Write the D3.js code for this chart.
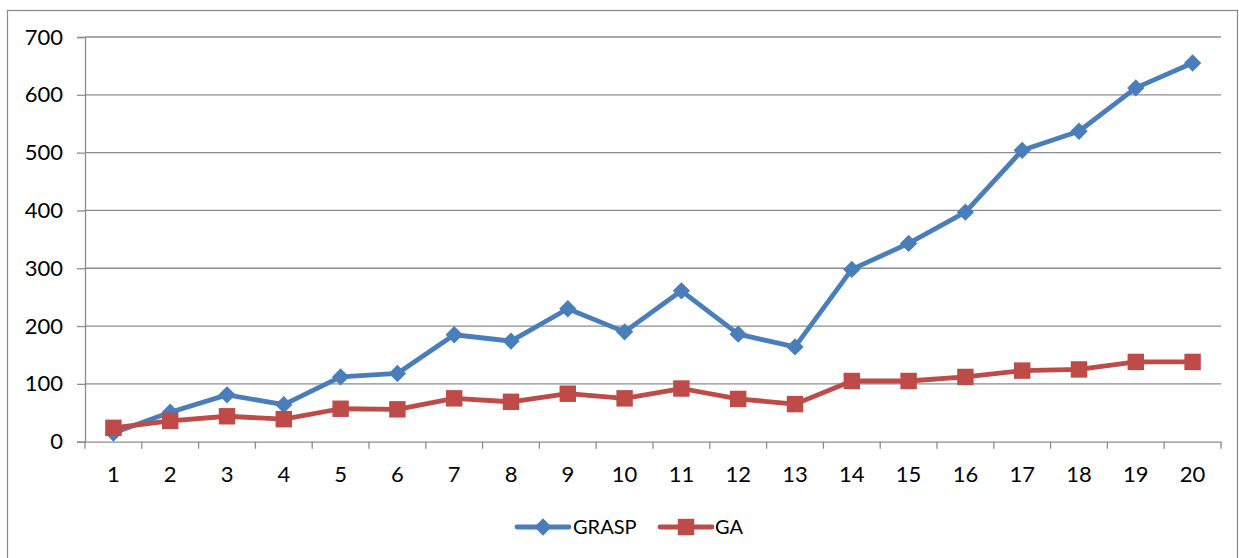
<!DOCTYPE html>
<html>
<head>
<meta charset="utf-8">
<script src="https://cdn.jsdelivr.net/npm/d3@7"></script>
<style>
  body { margin: 0; background: #fff; }
  svg text { font-family: Lato, "Open Sans", sans-serif; fill: #000; }
</style>
</head>
<body>
<div id="chart"></div>
<script>
// Chart data
const categories = d3.range(1, 21).map(String);
const graspValues = [15, 51, 81, 64, 112, 118, 185, 174, 230, 190, 261, 186, 164, 298, 343, 397, 504, 537, 612, 655];
const gaValues = [24, 36, 44, 39, 57, 56, 75, 69, 83, 75, 92, 74, 65, 105, 105, 112, 123, 125, 138, 138];
const yTicks = [0, 100, 200, 300, 400, 500, 600, 700];

const series = [
    {name: "GRASP", values: graspValues, color: "#4a7ebb", shape: "diamond"},
    {name: "GA", values: gaValues, color: "#be4b48", shape: "square"}
];

const W = 1239, H = 558;
const plot = {left: 85, right: 1221, top: 37, bottom: 441.7};

const svg = d3.select("#chart").append("svg")
    .attr("width", W)
    .attr("height", H);

// outer chart border
svg.append("rect")
    .attr("x", 7.5).attr("y", 10.5)
    .attr("width", 1230).attr("height", 560)
    .attr("fill", "none")
    .attr("stroke", "#868686")
    .attr("stroke-width", 1.2);

const x = d3.scaleBand()
    .domain(categories)
    .range([plot.left, plot.right]);

const y = d3.scaleLinear()
    .domain([0, 700])
    .range([plot.bottom, plot.top]);

// horizontal gridlines
svg.append("g")
    .selectAll("line")
    .data(yTicks.filter(d => d > 0))
    .enter().append("line")
    .attr("x1", plot.left).attr("x2", plot.right)
    .attr("y1", d => y(d)).attr("y2", d => y(d))
    .attr("stroke", "#8c8c8c")
    .attr("stroke-width", 1.3);

// y axis
const yAxis = svg.append("g")
    .attr("transform", `translate(${plot.left},0)`)
    .call(d3.axisLeft(y).tickValues(yTicks).tickSize(8).tickPadding(14));
yAxis.select(".domain").attr("stroke", "#8c8c8c").attr("stroke-width", 1.3);
yAxis.selectAll(".tick line").attr("stroke", "#8c8c8c").attr("stroke-width", 1.3);
yAxis.selectAll(".tick text")
    .style("font-size", "22px")
    .style("font-family", "Lato, 'Open Sans', sans-serif");

// x axis: ticks sit on band boundaries
const xAxis = svg.append("g")
    .attr("transform", `translate(0,${plot.bottom})`)
    .call(d3.axisBottom(x).tickSize(0).tickPadding(25));
xAxis.select(".domain").attr("stroke", "#8c8c8c").attr("stroke-width", 1.3);
xAxis.selectAll(".tick text")
    .style("font-size", "22px")
    .style("font-family", "Lato, 'Open Sans', sans-serif");

const bounds = categories.map(c => x(c)).concat([plot.right]);
xAxis.selectAll(".bound")
    .data(bounds)
    .enter().append("line")
    .attr("class", "bound")
    .attr("x1", d => d).attr("x2", d => d)
    .attr("y1", 0).attr("y2", 7)
    .attr("stroke", "#8c8c8c")
    .attr("stroke-width", 1.3);

// lines and markers
const line = d3.line()
    .x((d, i) => x(categories[i]) + x.bandwidth() / 2)
    .y(d => y(d));

const symbolFor = s => s === "diamond"
    ? d3.symbol().type(d3.symbolSquare).size(150)
    : d3.symbol().type(d3.symbolSquare).size(270);

series.forEach(s => {
    svg.append("path")
        .datum(s.values)
        .attr("d", line)
        .attr("fill", "none")
        .attr("stroke", s.color)
        .attr("stroke-width", 4.8)
        .attr("stroke-linejoin", "round");

    svg.append("g")
        .selectAll("path")
        .data(s.values)
        .enter().append("path")
        .attr("d", symbolFor(s.shape))
        .attr("transform", (d, i) => `translate(${x(categories[i]) + x.bandwidth() / 2},${y(d)})` + (s.shape === "diamond" ? " rotate(45)" : ""))
        .attr("fill", s.color);
});

// legend
const legendPos = [{x: 517, textX: 573}, {x: 660, textX: 715}];
const legendY = 527;
const legend = svg.append("g");
series.forEach((s, i) => {
    const p = legendPos[i];
    legend.append("line")
        .attr("x1", p.x).attr("x2", p.x + 52)
        .attr("y1", legendY).attr("y2", legendY)
        .attr("stroke", s.color)
        .attr("stroke-width", 4.8)
        .attr("stroke-linecap", "round");
    legend.append("path")
        .attr("d", symbolFor(s.shape)())
        .attr("transform", `translate(${p.x + 26},${legendY})` + (s.shape === "diamond" ? " rotate(45)" : ""))
        .attr("fill", s.color);
    legend.append("text")
        .attr("x", p.textX)
        .attr("y", legendY)
        .attr("dy", "0.35em")
        .style("font-size", "20px")
        .text(s.name);
});
</script>
</body>
</html>
